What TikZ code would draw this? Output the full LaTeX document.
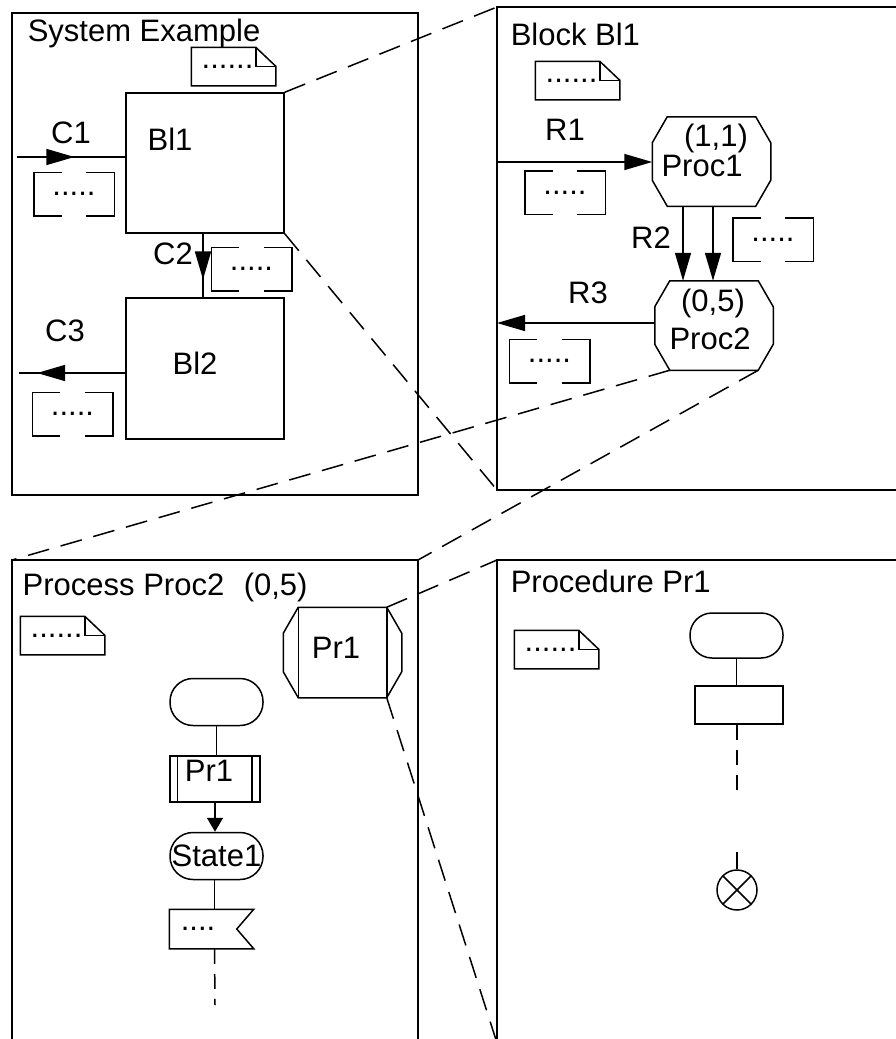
\documentclass[tikz,border=0pt]{standalone}
\usepackage{fontspec}
\setmainfont{Liberation Sans}
\usetikzlibrary{arrows.meta, decorations.markings}

% Ky hieu ghi chu (goc gap)
\newcommand{\notesym}[1]{%
  \draw (#1.north west) -- ([xshift=-20pt]#1.north east) -- ([yshift=-19pt]#1.north east)
    -- (#1.south east) -- (#1.south west) -- cycle;
  \draw ([xshift=-20pt]#1.north east) |- ([yshift=-19pt]#1.north east);}
% Danh sach tin hieu [ ... ]
\newcommand{\siglist}[1]{%
  \draw ([xshift=28pt]#1.north west) -- (#1.north west) -- (#1.south west) -- ([xshift=28pt]#1.south west);
  \draw ([xshift=-28pt]#1.north east) -- (#1.north east) -- (#1.south east) -- ([xshift=-28pt]#1.south east);}
% Hinh bat giac
\newcommand{\octa}[1]{%
  \draw ([xshift=15pt]#1.north west) -- ([xshift=-15pt]#1.north east) -- ([yshift=-26pt]#1.north east)
    -- ([yshift=26pt]#1.south east) -- ([xshift=-15pt]#1.south east) -- ([xshift=15pt]#1.south west)
    -- ([yshift=26pt]#1.south west) -- ([yshift=-26pt]#1.north west) -- cycle;}

\begin{document}
\begin{tikzpicture}[x=1pt, y=-1pt, line width=1.5pt,
    font=\fontsize{31}{36}\selectfont,
    >={Triangle[length=28pt,width=16pt]},
    lbl/.style={inner sep=0pt},
    title/.style={anchor=base west, inner sep=0pt},
    box/.style={draw, minimum width=158pt, minimum height=140pt, inner sep=0pt},
    octo/.style={minimum width=117pt, minimum height=88pt, inner sep=0pt},
    notebox/.style={minimum width=83pt, minimum height=37pt, inner sep=0pt},
    sigbox/.style={minimum width=79pt, minimum height=42pt, inner sep=0pt},
    startsym/.style={draw, rounded corners=23pt, minimum width=93pt, minimum height=47pt, inner sep=0pt},
    stopsym/.style={draw, circle, minimum size=40pt, inner sep=0pt,
        path picture={\draw (path picture bounding box.north west) -- (path picture bounding box.south east)
            (path picture bounding box.north east) -- (path picture bounding box.south west);}},
    zoomline/.style={dash pattern=on 22pt off 12pt},
    flowdash/.style={dash pattern=on 15pt off 10pt},
    midarrow/.style={postaction={decorate}, decoration={markings,
        mark=at position #1 with {\arrow{Triangle[length=28pt,width=16pt]}}}}]
    \useasboundingbox (0,0) rectangle (896,1039);
    \clip (0,0) rectangle (896,1039);

    % 1. System Example
    \draw (12,13) rectangle (418,495);
    \node[title] (systitle) at (27,41) {System Example};
    \node[notebox] (sysnote) at (233.5,66.5) {......\kern12pt};
    \notesym{sysnote}
    \node[box] (bl1) at (205,163) {};
    \node[lbl] (bl1txt) at (170,139) {Bl1};
    \node[box, minimum height=141pt] (bl2) at (205,368.5) {};
    \node[lbl] (bl2txt) at (195,363) {Bl2};

    \coordinate (c1in) at (17,157);
    \draw[midarrow=0.53] (c1in) -- (c1in -| bl1.west);
    \node[lbl] (c1) at (71,133) {C1};
    \node[sigbox] (c1sig) at (74,194) {.....};
    \siglist{c1sig}

    \draw[midarrow=0.72] ([xshift=-2pt]bl1.south) -- ([xshift=-2pt]bl2.north);
    \node[lbl] (c2) at (173,254) {C2};
    \node[sigbox] (c2sig) at (251.5,269) {.....};
    \siglist{c2sig}

    \coordinate (c3out) at (19,373);
    \draw[midarrow=0.83] (c3out -| bl2.west) -- (c3out);
    \node[lbl] (c3) at (65,331) {C3};
    \node[sigbox] (c3sig) at (72.5,414) {.....};
    \siglist{c3sig}

    % 2. Block Bl1
    \draw (497,7) rectangle (910,490);
    \coordinate (blknw) at (497,7);
    \coordinate (blksw) at (497,490);
    \node[title] (blktitle) at (510,45) {Block Bl1};
    \node[notebox] (blknote) at (577.5,80.5) {......\kern12pt};
    \notesym{blknote}

    \node[octo] (proc1) at (711.5,161.5) {};
    \octa{proc1}
    \node[lbl] (proc1id) at (716,138) {(1,1)};
    \node[lbl] (proc1txt) at (702,166) {Proc1};
    \node[octo] (proc2) at (714,325.5) {};
    \octa{proc2}
    \node[lbl] (proc2id) at (713,303.5) {(0,5)};
    \node[lbl] (proc2txt) at (710,338.5) {Proc2};

    \coordinate (r1in) at (497,162);
    \draw[->] (r1in) -- (r1in -| proc1.west);
    \node[lbl] (r1) at (565,130) {R1};
    \node[sigbox] (r1sig) at (565,192.5) {.....};
    \siglist{r1sig}

    \draw[->] ([xshift=-28.5pt]proc1.south) -- ([xshift=-28.5pt]proc1.south |- proc2.north);
    \draw[->] ([xshift=1.5pt]proc1.south) -- ([xshift=1.5pt]proc1.south |- proc2.north);
    \node[lbl] (r2) at (651,238) {R2};
    \node[sigbox] (r2sig) at (773,239.5) {.....};
    \siglist{r2sig}

    \coordinate (r3out) at (497,323);
    \draw[->] (r3out -| proc2.west) -- (r3out);
    \node[lbl] (r3) at (588,293) {R3};
    \node[sigbox] (r3sig) at (549.5,361) {.....};
    \siglist{r3sig}

    % 3. Process Proc2
    \draw (418,1050) -- (418,560) -- (12,560) -- (12,1050);
    \coordinate (prcnw) at (12,560);
    \coordinate (prcne) at (418,560);
    \node[title] (prctitle) at (22,595) {Process Proc2};
    \node[title] (prcid) at (243,595) {(0,5)};
    \node[notebox] (prcnote) at (62.5,635.5) {......\kern12pt};
    \notesym{prcnote}

    \node[octo, minimum height=89pt] (pr1ref) at (342.5,652.5) {};
    \octa{pr1ref}
    \draw ([xshift=15pt]pr1ref.north west) -- ([xshift=15pt]pr1ref.south west);
    \draw ([xshift=-15pt]pr1ref.north east) -- ([xshift=-15pt]pr1ref.south east);
    \node[lbl] (pr1reftxt) at (336,648) {Pr1};

    \node[startsym] (start1) at (216.5,702) {};
    \node[draw, minimum width=90pt, minimum height=46pt, inner sep=0pt] (call1) at (215,779) {};
    \draw ([xshift=8pt]call1.north west) -- ([xshift=8pt]call1.south west);
    \draw ([xshift=-9pt]call1.north east) -- ([xshift=-9pt]call1.south east);
    \node[lbl] (call1txt) at (209,771) {Pr1};
    \node[startsym] (state1) at (216.5,856) {State1};
    \node[minimum width=83pt, minimum height=38pt, inner sep=0pt] (out1) at (211.5,929) {....\kern27pt};
    \draw (out1.north west) -- (out1.north east) -- ([xshift=-17pt]out1.east)
        -- (out1.south east) -- (out1.south west) -- cycle;
    \coordinate (prcend) at (215,1005);

    \draw (start1.south) -- (start1.south |- call1.north);
    \draw[-{Triangle[length=14pt,width=16pt]}] (call1.south) -- (call1.south |- state1.north);
    \draw ([xshift=-2pt]state1.south) -- ([xshift=-2pt]state1.south |- out1.north);
    \draw[flowdash] ([xshift=3pt]out1.south) -- (prcend);

    % 4. Procedure Pr1
    \draw (910,560) -- (497,560) -- (497,1050);
    \coordinate (pcdnw) at (497,560);
    \coordinate (pcdsw) at (497,1043);
    \node[title] (pcdtitle) at (510,592) {Procedure Pr1};
    \node[notebox] (pcdnote) at (556.5,649.5) {......\kern12pt};
    \notesym{pcdnote}

    \node[startsym, minimum height=45pt, rounded corners=22pt] (start2) at (736.5,635.5) {};
    \node[draw, minimum width=88pt, minimum height=38pt, inner sep=0pt] (task2) at (739,705) {};
    \node[stopsym] (stop2) at (737,890) {};
    \coordinate (pcdmid) at (737,797);
    \coordinate (stopin) at (737,852);

    \draw (start2.south) -- (start2.south |- task2.north);
    \draw[flowdash] (task2.south -| pcdmid) -- (pcdmid);
    \draw (stopin) -- (stop2.north);

    % 5. Duong phong to
    \draw[zoomline] (bl1.north east) -- (blknw);
    \draw[zoomline] (bl1.south east) -- (blksw);
    \draw[zoomline] ([xshift=15pt]proc2.south west) -- (prcnw);
    \draw[zoomline] ([xshift=-15pt]proc2.south east) -- (prcne);
    \draw[zoomline] ([xshift=-15pt]pr1ref.north east) -- (pcdnw);
    \draw[zoomline] ([xshift=-15pt]pr1ref.south east) -- (pcdsw);
\end{tikzpicture}
\end{document}
